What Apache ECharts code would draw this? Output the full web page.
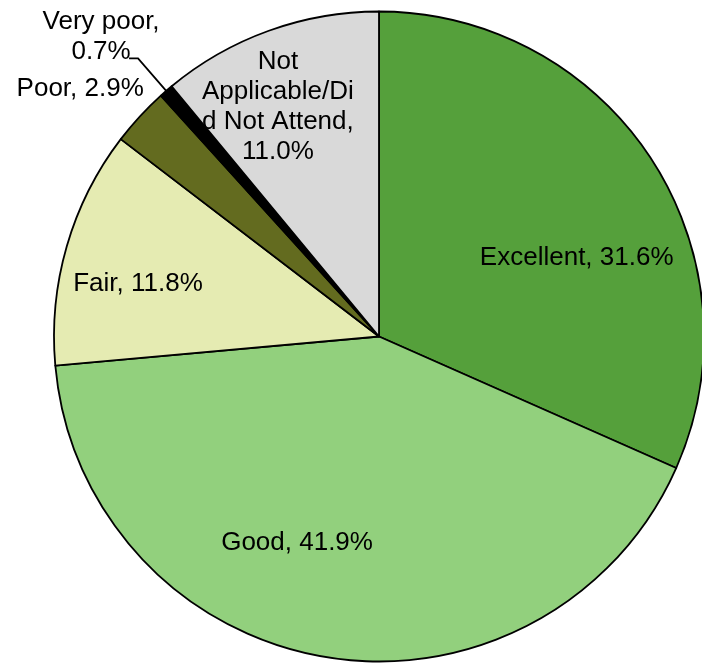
<!DOCTYPE html>
<html>
<head>
<meta charset="utf-8">
<script src="https://cdn.jsdelivr.net/npm/echarts@6/dist/echarts.min.js"></script>
<style>
html, body { margin: 0; background: #fff; }
#chart { width: 702px; height: 664px; }
</style>
</head>
<body>
<div id="chart"></div>
<script>
const categories = ['Excellent', 'Good', 'Fair', 'Poor', 'Very poor', 'Not Applicable/Did Not Attend'];
const shares = [31.6, 41.9, 11.8, 2.9, 0.7, 11.0];
const sliceColors = ['#55a03b', '#92d07d', '#e5ebb2', '#636b1f', '#000000', '#d9d9d9'];
// how the excel labels wrapped
const wrappedNames = { 'Very poor': 'Very poor,\n', 'Not Applicable/Did Not Attend': 'Not\nApplicable/Di\nd Not Attend,\n' };

// nudge of each label away from where echarts puts it
const labelShift = [[59, 12], [-55, 43], [-82, -7], [-177, -136], [-26, -22], [-45, -74]];

const myChart = echarts.init(document.getElementById('chart'));

const seriesData = categories.map((name, i) => {
    const item = { name: name, value: shares[i], itemStyle: { color: sliceColors[i] } };
    if (name === 'Very poor') {
        item.label = { position: 'outside', distanceToLabelLine: 2 };
        item.labelLine = { show: true, length: 43, length2: 9, lineStyle: { color: '#000', width: 1.8 } };
    }
    return item;
});

const option = {
    backgroundColor: '#fff',
    animation: false,
    series: [{
        type: 'pie',
        center: [379, 336.5],
        radius: [0, 325],
        startAngle: 90,
        clockwise: true,
        avoidLabelOverlap: false,
        data: seriesData,
        itemStyle: { borderColor: '#000', borderWidth: 1.8 },
        label: {
            show: true,
            position: 'inside',
            color: '#000',
            fontFamily: '"Liberation Sans", Arial, sans-serif',
            fontSize: 26,
            lineHeight: 30,
            align: 'center',
            formatter: (p) => {
                const head = wrappedNames[p.name] || (p.name + ', ');
                return head + p.value.toFixed(1) + '%';
            }
        },
        labelLine: { show: false },
        labelLayout: (params) => {
            const s = labelShift[params.dataIndex];
            return { dx: s[0], dy: s[1], align: 'center' };
        },
        emphasis: { disabled: true }
    }]
};

myChart.setOption(option);
</script>
</body>
</html>
